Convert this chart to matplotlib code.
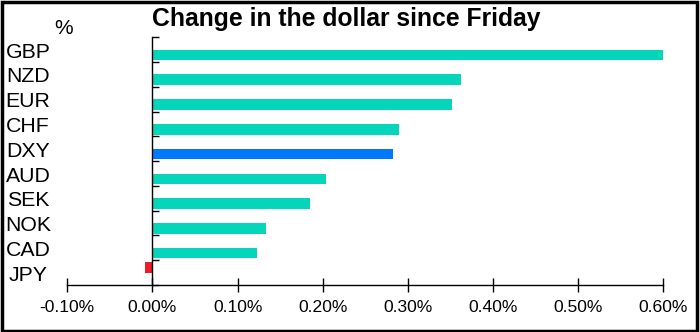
import numpy as np
import matplotlib
matplotlib.use("Agg")
import matplotlib.pyplot as plt
from matplotlib.patches import Rectangle
from matplotlib.ticker import FuncFormatter
from matplotlib.transforms import blended_transform_factory, ScaledTranslation

plt.rcParams['font.family'] = ['Liberation Sans', 'DejaVu Sans']

currencies = ['GBP', 'NZD', 'EUR', 'CHF', 'DXY', 'AUD', 'SEK', 'NOK', 'CAD', 'JPY']
change = [0.600, 0.3625, 0.3515, 0.290, 0.2826, 0.2036, 0.185, 0.1335, 0.1229, -0.0086]
bar_colors = ['#05D5BB', '#05D5BB', '#05D5BB', '#05D5BB', '#0078FF',
              '#05D5BB', '#05D5BB', '#05D5BB', '#05D5BB', '#EE1C25']
x_ticks = [-0.1, 0.0, 0.1, 0.2, 0.3, 0.4, 0.5, 0.6]

fig = plt.figure(figsize=(7, 3.32), dpi=100)
ax = fig.add_axes([0.0961, 0.1416, 0.9476 - 0.0961, 0.8876 - 0.1416])

pos = np.arange(len(currencies))
vals = np.array(change)
# rises and falls sit in two separate slots of each category band
offset = np.where(vals >= 0, 0.215, -0.215)
ax.barh(pos + offset, vals, height=0.43, color=bar_colors, linewidth=0)

ax.set_xlim(-0.1, 0.6)
ax.set_ylim(len(currencies) - 0.5, -0.5)

ax.spines['top'].set_visible(False)
ax.spines['right'].set_visible(False)
ax.spines['left'].set_position(('data', 0))
for s in ('left', 'bottom'):
    ax.spines[s].set_linewidth(1.0)
    ax.spines[s].set_color('black')

ax.set_xticks(x_ticks)
ax.xaxis.set_major_formatter(FuncFormatter(lambda v, p: f'{v:.2f}%'))
ax.tick_params(axis='x', direction='inout', length=10, width=1.0,
               labelsize=12.6, pad=6, colors='black')

ax.set_yticks(np.arange(len(currencies) + 1) - 0.5)
ax.set_yticklabels([])
ax.tick_params(axis='y', direction='in', length=5, width=1.0, colors='black')

# currency names sit at the far left, centred in their bands
label_tf = blended_transform_factory(fig.transFigure, ax.transData) + \
    ScaledTranslation(0, -2.5 / 100, fig.dpi_scale_trans)
for i, name in enumerate(currencies):
    ax.text(28 / 700, i, name, transform=label_tf,
            ha='center', va='center', fontsize=15.3)

fig.text(64 / 700, 1 - 28 / 332, '%', ha='center', va='center', fontsize=15)
fig.text(346 / 700, 1 - 19 / 332, 'Change in the dollar since Friday',
         ha='center', va='center', fontsize=17.8, fontweight='bold')

# frame around the whole figure
fig.patches.append(Rectangle((1.5 / 700, 1.5 / 332), 695 / 700, 329 / 332,
                             transform=fig.transFigure, fill=False,
                             edgecolor='black', linewidth=2.5))

fig.savefig('out.png', dpi=100)
